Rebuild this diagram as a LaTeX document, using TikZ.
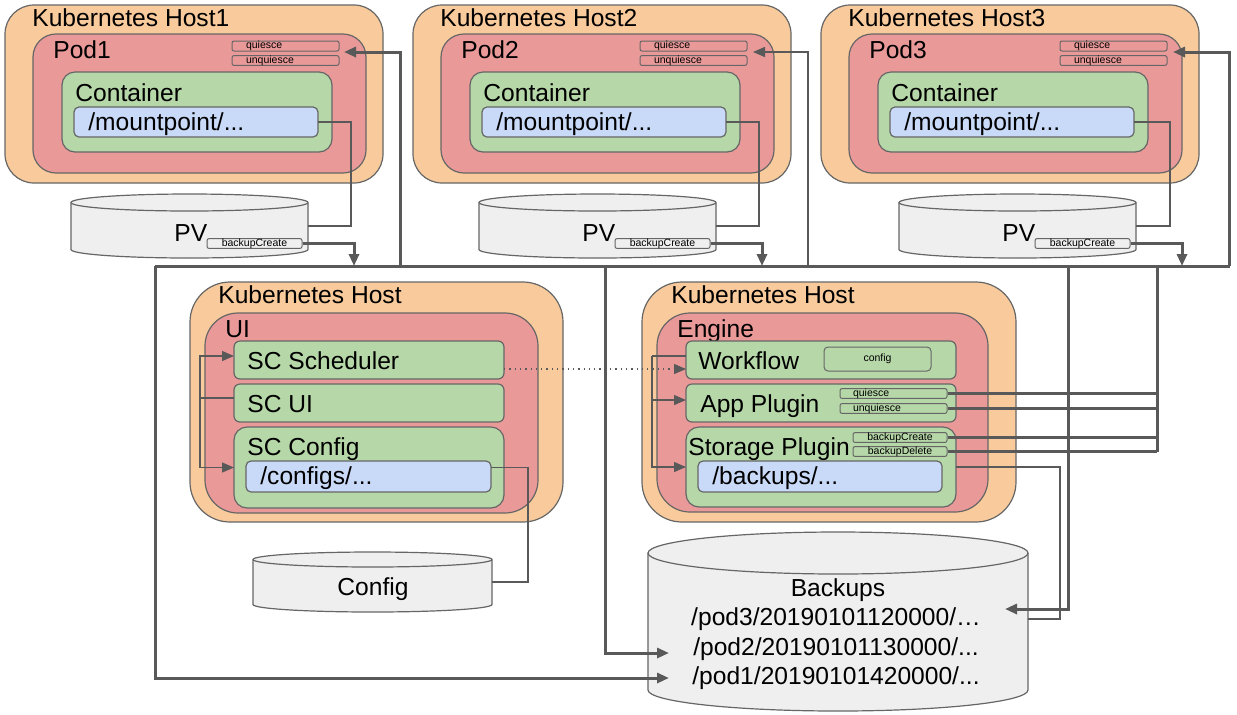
\documentclass[tikz,border=0pt]{standalone}
\usepackage{fontspec}
\setmainfont{Liberation Sans}
\usetikzlibrary{arrows.meta,calc}
\definecolor{hostorange}{HTML}{F9CB9C}
\definecolor{podred}{HTML}{EA9999}
\definecolor{boxgreen}{HTML}{B6D7A8}
\definecolor{dirblue}{HTML}{C9DAF8}
\definecolor{drumgray}{HTML}{EFEFEF}
\definecolor{edgegray}{HTML}{666666}
\definecolor{wiregray}{HTML}{595959}
\newcommand{\hostfont}{\fontsize{12.3}{14.5}\selectfont}
\newcommand{\tagfont}{\fontsize{5.25}{6}\selectfont}
% drum outline round a named space node: name, x radius, y radius
\newcommand{\drawdrum}[3]{%
    \draw[drum] ([yshift=-#3]#1.north west) -- ([yshift=#3]#1.south west)
        arc[start angle=180, end angle=360, x radius=#2, y radius=#3]
        -- ([yshift=-#3]#1.north east)
        arc[start angle=0, end angle=180, x radius=#2, y radius=#3] -- cycle;
    \draw[drum, fill=none] ([yshift=-#3]#1.north west)
        arc[start angle=180, end angle=360, x radius=#2, y radius=#3];
}
\tikzset{
    host/.style = {
        draw = edgegray,
        fill = hostorange,
        line width = 0.6pt,
        inner sep = 0pt,
        outer sep = 0pt,
        },
    pod/.style = {
        host,
        fill = podred,
        },
    module/.style = {
        host,
        fill = boxgreen,
        },
    dir/.style = {
        host,
        fill = dirblue,
        rounded corners = 2.5pt,
        },
    tag/.style = {
        draw = edgegray,
        line width = 0.5pt,
        inner sep = 0pt,
        rounded corners = 1pt,
        font = \tagfont,
        },
    drumspace/.style = {
        inner sep = 0pt,
        outer sep = 0pt,
        },
    drum/.style = {
        draw = edgegray,
        fill = drumgray,
        line width = 0.6pt,
        },
    heading/.style = {
        anchor = base west,
        inner sep = 0pt,
        font = \hostfont,
        },
    wire/.style = {
        draw = wiregray,
        line width = 0.65pt,
        },
    bus/.style = {
        draw = wiregray,
        line width = 1.5pt,
        },
    arrowed/.style = {
        -{Triangle[length=6pt,width=5pt]},
        },
}
\begin{document}
\begin{tikzpicture}[x=0.5pt, y=-0.5pt]
            \useasboundingbox (0,0) rectangle (1237,714);

            % host 1
            \node[host, minimum width=189pt, minimum height=89pt, rounded corners=14.5pt] (host1) at (194,94) {};
            \node[heading] (host1 name) at (32,26) {Kubernetes Host1};
            \node[pod, minimum width=166.5pt, minimum height=69.5pt, rounded corners=11.5pt] (pod1) at (199.5,103.5) {};
            \node[heading] (pod1 name) at (53,58) {Pod1};
            \node[tag, fill=podred, text width=39.5pt, align=left, inner xsep=7pt, minimum height=5pt] (quiesce1) at (285.5,46) {quiesce};
            \node[tag, fill=podred, text width=39.5pt, align=left, inner xsep=7pt, minimum height=4.5pt] (unquiesce1) at (285.5,60.5) {unquiesce};
            \node[module, minimum width=135pt, minimum height=40pt, rounded corners=6.5pt] (container1) at (197,112) {};
            \node[heading] (container1 name) at (75,101) {Container};
            \node[dir, minimum width=122pt, minimum height=15pt] (mount1) at (196,122) {};
            \node[heading] (mount1 name) at (88,130) {/mountpoint/...};
            \node[drumspace, minimum width=118.5pt, minimum height=32pt] (pv1) at (189.5,226) {};
            \drawdrum{pv1}{59.25pt}{4.25pt}
            \node[heading] (pv1 name) at (174,241) {PV};
            \node[tag, fill=drumgray, minimum width=47.5pt, minimum height=4.5pt] (create1) at (254.5,243.5) {backupCreate};

            % host 2
            \node[host, minimum width=189pt, minimum height=89pt, rounded corners=14.5pt] (host2) at (602,94) {};
            \node[heading] (host2 name) at (440,26) {Kubernetes Host2};
            \node[pod, minimum width=166.5pt, minimum height=69.5pt, rounded corners=11.5pt] (pod2) at (607.5,103.5) {};
            \node[heading] (pod2 name) at (461,58) {Pod2};
            \node[tag, fill=podred, text width=39.5pt, align=left, inner xsep=7pt, minimum height=5pt] (quiesce2) at (693.5,46) {quiesce};
            \node[tag, fill=podred, text width=39.5pt, align=left, inner xsep=7pt, minimum height=4.5pt] (unquiesce2) at (693.5,60.5) {unquiesce};
            \node[module, minimum width=135pt, minimum height=40pt, rounded corners=6.5pt] (container2) at (605,112) {};
            \node[heading] (container2 name) at (483,101) {Container};
            \node[dir, minimum width=122pt, minimum height=15pt] (mount2) at (604,122) {};
            \node[heading] (mount2 name) at (496,130) {/mountpoint/...};
            \node[drumspace, minimum width=118.5pt, minimum height=32pt] (pv2) at (597.5,226) {};
            \drawdrum{pv2}{59.25pt}{4.25pt}
            \node[heading] (pv2 name) at (582,241) {PV};
            \node[tag, fill=drumgray, minimum width=47.5pt, minimum height=4.5pt] (create2) at (662.5,243.5) {backupCreate};

            % host 3
            \node[host, minimum width=189pt, minimum height=89pt, rounded corners=14.5pt] (host3) at (1010,94) {};
            \node[heading] (host3 name) at (848,26) {Kubernetes Host3};
            \node[pod, minimum width=166.5pt, minimum height=69.5pt, rounded corners=11.5pt] (pod3) at (1015.5,103.5) {};
            \node[heading] (pod3 name) at (869,58) {Pod3};
            \node[tag, fill=podred, text width=39.5pt, align=left, inner xsep=7pt, minimum height=5pt] (quiesce3) at (1113.5,46) {quiesce};
            \node[tag, fill=podred, text width=39.5pt, align=left, inner xsep=7pt, minimum height=4.5pt] (unquiesce3) at (1113.5,60.5) {unquiesce};
            \node[module, minimum width=135pt, minimum height=40pt, rounded corners=6.5pt] (container3) at (1013,112) {};
            \node[heading] (container3 name) at (891,101) {Container};
            \node[dir, minimum width=122pt, minimum height=15pt] (mount3) at (1012,122) {};
            \node[heading] (mount3 name) at (904,130) {/mountpoint/...};
            \node[drumspace, minimum width=118.5pt, minimum height=32pt] (pv3) at (1017.5,226) {};
            \drawdrum{pv3}{59.25pt}{4.25pt}
            \node[heading] (pv3 name) at (1002,241) {PV};
            \node[tag, fill=drumgray, minimum width=47.5pt, minimum height=4.5pt] (create3) at (1082.5,243.5) {backupCreate};

            % ui host
            \node[host, minimum width=186.5pt, minimum height=120pt, rounded corners=20pt] (uihost) at (376.5,402) {};
            \node[heading] (uihost name) at (218,303) {Kubernetes Host};
            \node[pod, minimum width=166.5pt, minimum height=100pt, rounded corners=16.5pt] (ui) at (371.5,413) {};
            \node[heading] (ui name) at (225,337) {UI};
            \node[module, minimum width=135pt, minimum height=19pt, rounded corners=3pt] (scsched) at (369,360) {};
            \node[heading] (scsched name) at (247,369) {SC Scheduler};
            \node[module, minimum width=135pt, minimum height=19pt, rounded corners=3pt] (scui) at (369,403) {};
            \node[heading] (scui name) at (247,412) {SC UI};
            \node[module, minimum width=135pt, minimum height=40.5pt, rounded corners=6.5pt] (scconfig) at (369,467.5) {};
            \node[heading] (scconfig name) at (247,455) {SC Config};
            \node[dir, minimum width=122.5pt, minimum height=15.5pt] (cfgdir) at (368.5,476.5) {};
            \node[heading] (cfgdir name) at (260,484) {/configs/...};
            \node[drumspace, minimum width=119.5pt, minimum height=30pt] (cfgdrum) at (372.5,582) {};
            \drawdrum{cfgdrum}{59.75pt}{3.75pt}
            \node[heading, anchor=base] (cfgdrum name) at (373,595) {Config};

            % engine host
            \node[host, minimum width=187pt, minimum height=120pt, rounded corners=20pt] (enghost) at (829,402) {};
            \node[heading] (enghost name) at (671,303) {Kubernetes Host};
            \node[pod, minimum width=165.5pt, minimum height=99.5pt, rounded corners=16.5pt] (engine) at (822.5,412.5) {};
            \node[heading] (engine name) at (677,337) {Engine};
            \node[module, minimum width=135pt, minimum height=19pt, rounded corners=3pt] (workflow) at (821,360) {};
            \node[heading] (workflow name) at (698,369) {Workflow};
            \node[tag, fill=boxgreen, minimum width=53.5pt, minimum height=12pt, rounded corners=2pt] (engconfig) at (877.5,359) {config};
            \node[module, minimum width=135pt, minimum height=19pt, rounded corners=3pt] (appplugin) at (821,403) {};
            \node[heading] (appplugin name) at (700,412) {App Plugin};
            \node[tag, fill=boxgreen, text width=40.5pt, align=left, inner xsep=6.5pt, minimum height=4.5pt] (engquiesce) at (893.5,393.5) {quiesce};
            \node[tag, fill=boxgreen, text width=40.5pt, align=left, inner xsep=6.5pt, minimum height=4.5pt] (engunquiesce) at (893.5,408.5) {unquiesce};
            \node[module, minimum width=135pt, minimum height=40pt, rounded corners=6.5pt] (storage) at (821,467) {};
            \node[heading] (storage name) at (688,455) {Storage Plugin};
            \node[tag, fill=boxgreen, minimum width=47pt, minimum height=4.5pt] (engcreate) at (900,437.5) {backupCreate};
            \node[tag, fill=boxgreen, minimum width=47pt, minimum height=4.5pt] (engdelete) at (900,451.5) {backupDelete};
            \node[dir, minimum width=122pt, minimum height=15.5pt] (bdir) at (820,476.5) {};
            \node[heading] (bdir name) at (712,484) {/backups/...};

            % backup store
            \node[drumspace, minimum width=190pt, minimum height=89.5pt] (backdrum) at (838,621.5) {};
            \drawdrum{backdrum}{95pt}{10.5pt}
            \node[heading, anchor=base] (backdrum name) at (838,596) {Backups};
            \node[heading, anchor=base] (entry3) at (836,625) {/pod3/20190101120000/…};
            \node[heading, anchor=base] (entry2) at (836,655) {/pod2/20190101130000/...};
            \node[heading, anchor=base] (entry1) at (836,684) {/pod1/20190101420000/...};

            % bus points
            \coordinate (busW) at (155,266);
            \coordinate (busE) at (1230,266);
            \coordinate (tap1) at (354,266);
            \coordinate (tap2) at (762,266);
            \coordinate (tap3) at (1182,266);
            \coordinate (feed1) at (400,266);
            \coordinate (feed2) at (808,266);
            \coordinate (feed3) at (1229,266);
            \coordinate (qin1) at (344,52);
            \coordinate (qin2) at (753,52);
            \coordinate (qin3) at (1173,52);
            \coordinate (drop2) at (605,266);
            \coordinate (drop3) at (1068,266);
            \coordinate (drop4) at (1157,266);
            \coordinate (in1) at (669,678);
            \coordinate (in2) at (669,653);
            \coordinate (in3) at (1005,609);

            % mounts
            \draw[wire] (mount1.east) -- ++(33,0) |- (pv1.east);
            \draw[wire] (mount2.east) -- ++(33,0) |- (pv2.east);
            \draw[wire] (mount3.east) -- ++(36,0) |- (pv3.east);
            \draw[wire] ([yshift=4.5pt]cfgdir.east) -- ++(37,0) |- (cfgdrum.east);
            \draw[wire] (storage.east) -- ++(104,0) |- ([yshift=1.25pt]backdrum.east);

            % bus
            \draw[bus] (busW) -- (busE);
            \draw[bus, arrowed] (create1.east) -| (tap1);
            \draw[bus, arrowed] (create2.east) -| (tap2);
            \draw[bus, arrowed] (create3.east) -| (tap3);
            \draw[bus, arrowed] (feed1) |- (qin1);
            \draw[wire, arrowed] (feed2) |- (qin2);
            \draw[bus, arrowed] (feed3) |- (qin3);
            \draw[bus, arrowed] (busW) |- (in1);
            \draw[bus, arrowed] (drop2) |- (in2);
            \draw[bus, arrowed] (drop3) |- (in3);
            \draw[bus] (drop4) -- (drop4 |- engdelete.east);
            \draw[bus] (engquiesce.east) -- (engquiesce.east -| drop4);
            \draw[bus] (engunquiesce.east) -- (engunquiesce.east -| drop4);
            \draw[bus] (engcreate.east) -- (engcreate.east -| drop4);
            \draw[bus] (engdelete.east) -- (engdelete.east -| drop4);

            % inside ui and engine
            \draw[wire] ([yshift=2.5pt]scui.west) -- ++(-34,0) coordinate (uiL);
            \draw[wire, arrowed] (uiL) |- ([yshift=2pt]scsched.west);
            \draw[wire, arrowed] (uiL) |- (scconfig.west);
            \draw[wire] ([yshift=2pt]workflow.west) -- ++(-34,0) coordinate (wfL);
            \draw[wire, arrowed] (wfL) |- ([yshift=1.5pt]appplugin.west);
            \draw[wire, arrowed] (wfL) |- (storage.west);
            \draw[wire, dotted, arrowed] ([yshift=-4.5pt]scsched.east) -- ([yshift=-4.5pt]scsched.east -| workflow.west);
        \end{tikzpicture}
\end{document}
